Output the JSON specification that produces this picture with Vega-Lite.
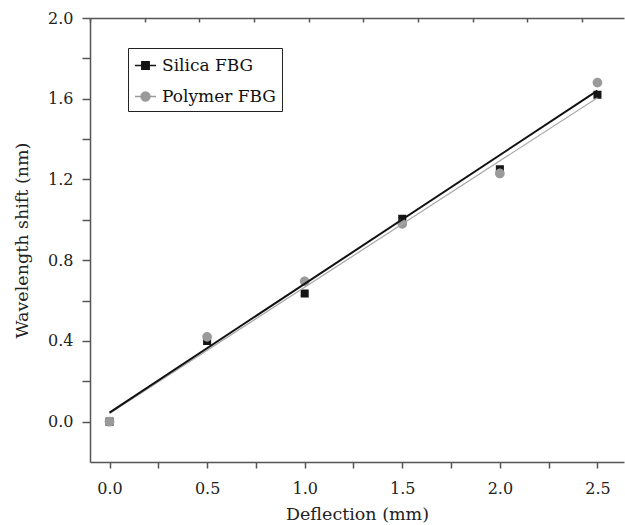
{
  "$schema": "https://vega.github.io/schema/vega-lite/v6.json",
  "width": 534,
  "height": 444,
  "autosize": {"type": "none"},
  "padding": {"left": 90, "top": 18, "right": 1, "bottom": 63},
  "background": "white",
  "config": {
    "view": {"stroke": null},
    "font": "DejaVu Serif",
    "axis": {
      "grid": false,
      "domainColor": "#555",
      "domainWidth": 1.5,
      "tickColor": "#555",
      "tickWidth": 1.5,
      "labelFont": "DejaVu Serif",
      "labelFontSize": 16,
      "labelColor": "#222",
      "titleFont": "DejaVu Serif",
      "titleFontSize": 17.5,
      "titleFontWeight": "normal",
      "titleColor": "#222"
    },
    "legend": {
      "orient": "none",
      "legendX": 38,
      "legendY": 30,
      "padding": 6,
      "strokeColor": "#222",
      "fillColor": "white",
      "symbolSize": 441,
      "symbolStrokeWidth": 1.5,
      "symbolOpacity": 1,
      "labelFont": "DejaVu Serif",
      "labelFontSize": 17,
      "labelColor": "#111",
      "labelOffset": 5,
      "rowPadding": 11,
      "labelLimit": 300
    }
  },
  "datasets": {
    "points": [
      {"series": "Silica FBG", "deflection": 0.0, "shift": 0.0},
      {"series": "Silica FBG", "deflection": 0.5, "shift": 0.40},
      {"series": "Silica FBG", "deflection": 1.0, "shift": 0.635},
      {"series": "Silica FBG", "deflection": 1.5, "shift": 1.005},
      {"series": "Silica FBG", "deflection": 2.0, "shift": 1.25},
      {"series": "Silica FBG", "deflection": 2.5, "shift": 1.62},
      {"series": "Polymer FBG", "deflection": 0.0, "shift": 0.0},
      {"series": "Polymer FBG", "deflection": 0.5, "shift": 0.42},
      {"series": "Polymer FBG", "deflection": 1.0, "shift": 0.695},
      {"series": "Polymer FBG", "deflection": 1.5, "shift": 0.98},
      {"series": "Polymer FBG", "deflection": 2.0, "shift": 1.23},
      {"series": "Polymer FBG", "deflection": 2.5, "shift": 1.68}
    ],
    "silicaFit": [
      {"deflection": 0.0, "shift": 0.045},
      {"deflection": 2.5, "shift": 1.64}
    ],
    "polymerFit": [
      {"deflection": 0.0, "shift": 0.04},
      {"deflection": 2.5, "shift": 1.605}
    ]
  },
  "layer": [
    {
      "data": {"name": "points"},
      "mark": {"type": "point", "filled": true, "opacity": 1, "size": 530},
      "encoding": {
        "x": {
          "field": "deflection",
          "type": "quantitative",
          "scale": {"domain": [-0.1, 2.636], "nice": false, "zero": false},
          "axis": {
            "orient": "bottom",
            "title": "Deflection (mm)",
            "values": [0, 0.25, 0.5, 0.75, 1, 1.25, 1.5, 1.75, 2, 2.25, 2.5],
            "labelExpr": "round(datum.value*100)%50==0 ? format(datum.value,'.1f') : ''",
            "tickSize": 6,
            "labelPadding": 12,
            "titlePadding": 9,
            "encode": {"ticks": {"update": {"y2": {"signal": "round(datum.value*100)%50==0 ? 6 : 3.5"}}}}
          }
        },
        "y": {
          "field": "shift",
          "type": "quantitative",
          "scale": {"domain": [-0.2, 2.0], "nice": false, "zero": false},
          "axis": {
            "orient": "left",
            "title": "Wavelength shift (nm)",
            "values": [0, 0.2, 0.4, 0.6, 0.8, 1.0, 1.2, 1.4, 1.6, 1.8, 2.0],
            "labelExpr": "round(datum.value*10)%4==0 ? format(datum.value,'.1f') : ''",
            "tickSize": 8,
            "labelPadding": 9,
            "titlePadding": 16,
            "encode": {"ticks": {"update": {"x2": {"signal": "round(datum.value*10)%4==0 ? -8 : -5"}}}}
          }
        },
        "color": {
          "field": "series",
          "type": "nominal",
          "sort": ["Silica FBG", "Polymer FBG"],
          "scale": {"domain": ["Silica FBG", "Polymer FBG"], "range": ["#151515", "#9a9a9a"]},
          "legend": {
            "title": null,
            "encode": {"symbols": {"update": {"stroke": {"signal": "scale('color', datum.value)"}, "strokeWidth": {"value": 1.5}}}}
          }
        },
        "shape": {
          "field": "series",
          "type": "nominal",
          "sort": ["Silica FBG", "Polymer FBG"],
          "scale": {
            "domain": ["Silica FBG", "Polymer FBG"],
            "range": [
              "M-1,0H1M-0.35,-0.35H0.35V0.35H-0.35Z",
              "M-1,0H1M0.42,0A0.42,0.42 0 1,1 -0.42,0A0.42,0.42 0 1,1 0.42,0Z"
            ]
          },
          "legend": {
            "title": null,
            "encode": {"symbols": {"update": {"stroke": {"signal": "scale('color', datum.value)"}, "strokeWidth": {"value": 1.5}}}}
          }
        }
      }
    },
    {
      "data": {"name": "polymerFit"},
      "mark": {"type": "line", "color": "#a8a8a8", "strokeWidth": 1.2},
      "encoding": {
        "x": {"field": "deflection", "type": "quantitative", "axis": null},
        "y": {
          "field": "shift",
          "type": "quantitative",
          "axis": {
            "orient": "left",
            "title": "Wavelength shift (nm)",
            "values": [0, 0.2, 0.4, 0.6, 0.8, 1.0, 1.2, 1.4, 1.6, 1.8, 2.0],
            "labelExpr": "round(datum.value*10)%4==0 ? format(datum.value,'.1f') : ''",
            "tickSize": 8,
            "labelPadding": 9,
            "titlePadding": 16,
            "encode": {"ticks": {"update": {"x2": {"signal": "round(datum.value*10)%4==0 ? -8 : -5"}}}}
          }
        }
      }
    },
    {
      "data": {"name": "silicaFit"},
      "mark": {"type": "line", "color": "#111", "strokeWidth": 2},
      "encoding": {
        "x": {
          "field": "deflection",
          "type": "quantitative",
          "axis": {
            "orient": "top",
            "title": null,
            "labels": false,
            "values": [-0.1, 0.18, 0.46, 0.74, 1.02, 1.3, 1.58, 1.86, 2.14, 2.42],
            "tickSize": -4,
            "encode": {"ticks": {"update": {"y2": {"signal": "indexof([0.46,1.02,1.58,2.14], datum.value) >= 0 ? 4 : 2.5"}}}}
          }
        },
        "y": {
          "field": "shift",
          "type": "quantitative",
          "axis": {
            "orient": "left",
            "title": "Wavelength shift (nm)",
            "values": [0, 0.2, 0.4, 0.6, 0.8, 1.0, 1.2, 1.4, 1.6, 1.8, 2.0],
            "labelExpr": "round(datum.value*10)%4==0 ? format(datum.value,'.1f') : ''",
            "tickSize": 8,
            "labelPadding": 9,
            "titlePadding": 16,
            "encode": {"ticks": {"update": {"x2": {"signal": "round(datum.value*10)%4==0 ? -8 : -5"}}}}
          }
        }
      }
    }
  ]
}
